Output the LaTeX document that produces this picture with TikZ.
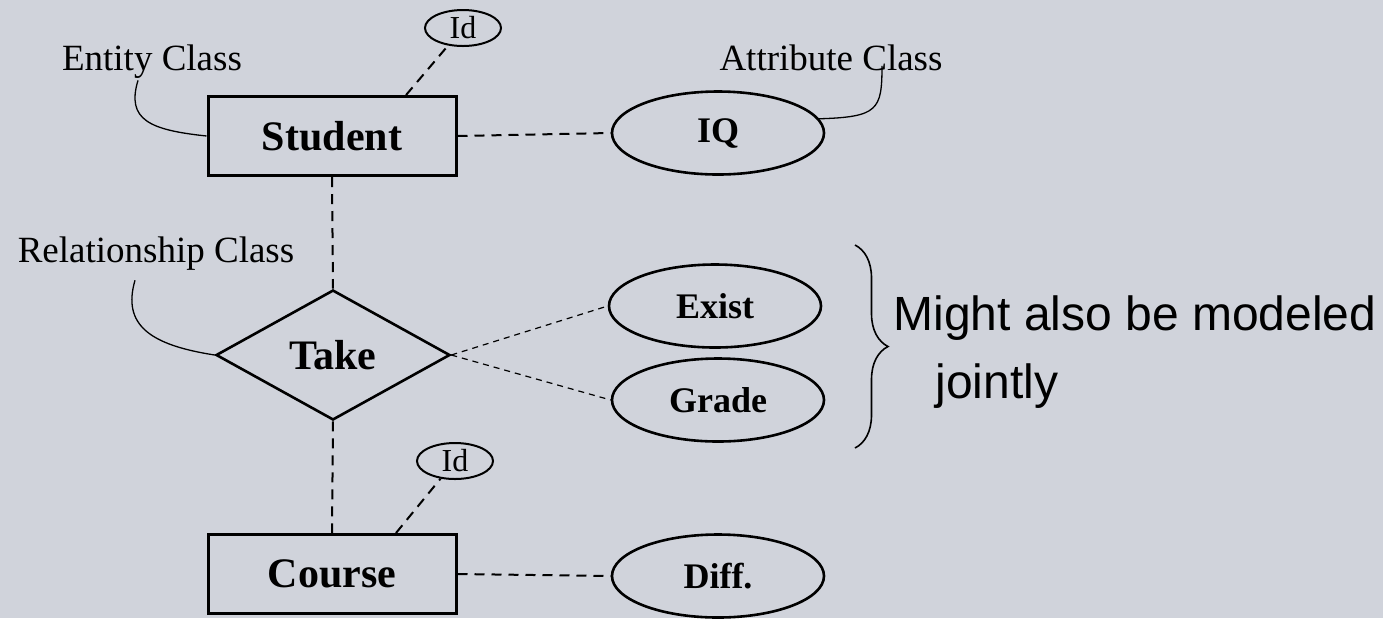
\documentclass[tikz,border=0pt]{standalone}
\usepackage{fontspec}
\setmainfont{Liberation Serif}
\newfontfamily\notefont{Liberation Sans}
\usetikzlibrary{shapes.geometric,decorations.pathreplacing,calc}
\definecolor{slide}{HTML}{D0D3DB}

\tikzset{
  entity/.style={draw,line width=1.5pt,minimum width=124pt,minimum height=39.5pt,inner sep=0pt,
    font=\fontsize{21}{25}\selectfont\bfseries},
  relation/.style={draw,diamond,line width=1.3pt,minimum width=117pt,minimum height=65pt,inner sep=0pt,
    font=\fontsize{21}{25}\selectfont\bfseries},
  attrib/.style={draw,ellipse,line width=1.3pt,minimum width=106pt,minimum height=41.5pt,inner sep=0pt,
    font=\fontsize{18}{22}\selectfont\bfseries},
  idkey/.style={draw,ellipse,line width=1pt,minimum width=38pt,minimum height=18pt,inner sep=0pt,
    font=\fontsize{16}{18}\selectfont},
  classlbl/.style={inner sep=0pt,anchor=base,font=\fontsize{18.5}{22}\selectfont},
  link/.style={line width=1pt,dash pattern=on 5pt off 3.5pt},
  thinlink/.style={line width=0.6pt,dash pattern=on 3pt off 2.5pt},
  callout/.style={line width=0.65pt}
}

\begin{document}
\begin{tikzpicture}[x=0.5pt,y=-0.5pt]
  \useasboundingbox (0,0) rectangle (1383,618);
  \fill[slide] (0,0) rectangle (1383,618);

  % entities, relationship and attributes
  \node[entity] (student) at (332,136) {Student};
  \node[relation] (take) at (333,355) {Take};
  \node[entity] (course) at (332,574) {Course};

  \node[attrib] (iq) at (718,133) {IQ};
  \node[attrib] (exist) at (715,306) {Exist};
  \node[attrib] (grade) at (718,400) {Grade};
  \node[attrib] (diff) at (718,576) {Diff.};

  \node[idkey] (sid) at (463,28) {Id};
  \node[idkey] (cid) at (455,461) {Id};

  % dashed links
  \draw[link] (student.south) -- (take.north);
  \draw[link] (take.south) -- (course.north);
  \draw[link] (student.east) -- (iq.west);
  \draw[link] (course.east) -- (diff.west);
  \draw[thinlink] (take.east) -- (exist.west);
  \draw[thinlink] (take.east) -- (grade.west);
  \draw[link] ($(student.north)!0.59!(student.north east)$) -- (sid);
  \draw[link] ($(course.north)!0.51!(course.north east)$) -- (cid);

  % class labels with their callouts
  \node[classlbl] (entlbl) at (152,70) {Entity Class};
  \node[classlbl] (attlbl) at (831,70) {Attribute Class};
  \node[classlbl] (rellbl) at (156,262) {Relationship Class};

  \draw[callout] ([xshift=-7pt,yshift=-1pt]entlbl.south) .. controls (126,120) and (150,130) .. (student.west);
  \draw[callout] ([xshift=-10.5pt,yshift=-5pt]rellbl.south) .. controls (122,325) and (150,345) .. (take.west);
  \draw[callout] (iq.8) .. controls (878,117) and (882,110) .. ([xshift=25.5pt,yshift=2.5pt]attlbl.south);

  % brace over exist and grade
  \draw[line width=0.8pt,decorate,decoration={brace,amplitude=16.5pt}] (855,245) -- (855,448);
  \node[anchor=north west,inner sep=0pt,align=left,font=\notefont\fontsize{24}{34}\selectfont] (joint) at (893,295)
    {Might also be modeled\\\hspace*{21pt}jointly};
\end{tikzpicture}
\end{document}
